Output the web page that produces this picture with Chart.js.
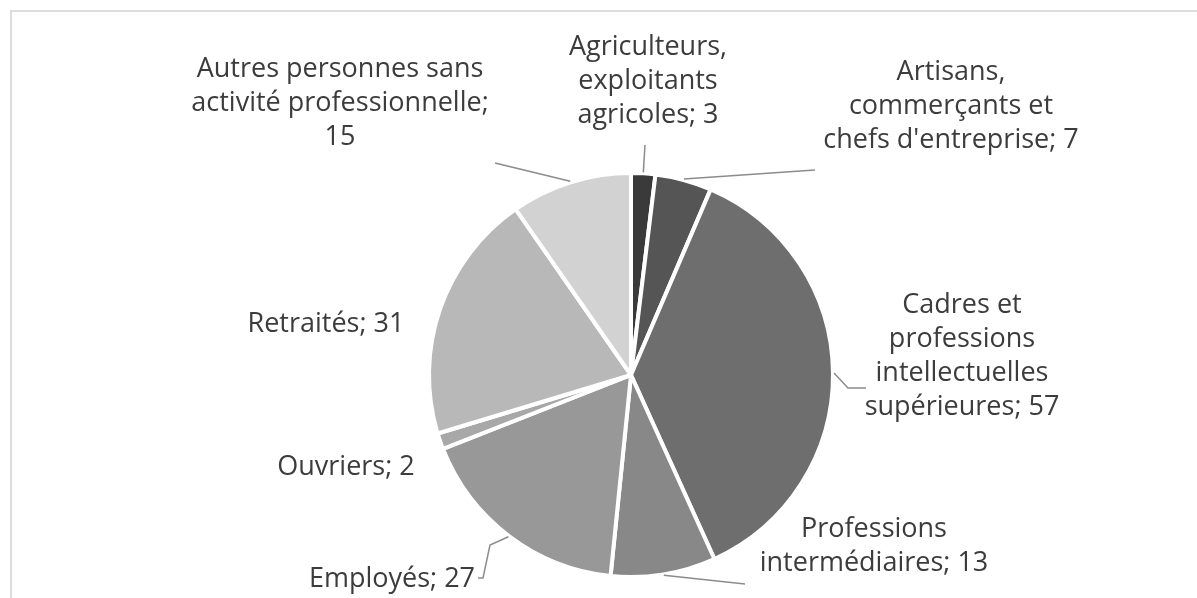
<!DOCTYPE html>
<html lang="fr">
<head>
    <meta charset="UTF-8">
    <script src="https://cdn.jsdelivr.net/npm/chart.js"></script>
    <title>Catégories socioprofessionnelles</title>
    <style>
        html, body {
            margin: 0;
            padding: 0;
            background: #ffffff;
        }
        #frame {
            position: absolute;
            left: 10px;
            top: 10px;
            width: 1187px;
            height: 588px;
            border-left: 2px solid #dcdcdc;
            border-top: 2px solid #dcdcdc;
        }
        #wrap {
            position: absolute;
            left: 0;
            top: 0;
            width: 1197px;
            height: 598px;
        }
    </style>
</head>
<body>
    <div id="frame"></div>
    <div id="wrap"><canvas id="pieChart"></canvas></div>

    <script>
        // données
        const categories = [
            'Agriculteurs, exploitants agricoles',
            'Artisans, commerçants et chefs d\'entreprise',
            'Cadres et professions intellectuelles supérieures',
            'Professions intermédiaires',
            'Employés',
            'Ouvriers',
            'Retraités',
            'Autres personnes sans activité professionnelle'
        ];
        const effectifs = [3, 7, 57, 13, 27, 2, 31, 15];
        const gris = ['#3a3a3a', '#555555', '#6e6e6e', '#888888', '#989898', '#a8a8a8', '#b8b8b8', '#d2d2d2'];

        // texte des étiquettes (coupé comme dans l'original)
        const lignesEtiquettes = [
            ['Agriculteurs,', 'exploitants', 'agricoles; 3'],
            ['Artisans,', 'commerçants et', 'chefs d\'entreprise; 7'],
            ['Cadres et', 'professions', 'intellectuelles', 'supérieures; 57'],
            ['Professions', 'intermédiaires; 13'],
            ['Employés; 27'],
            ['Ouvriers; 2'],
            ['Retraités; 31'],
            ['Autres personnes sans', 'activité professionnelle;', '15']
        ];

        // placement des étiquettes (centre du bloc) et fin du trait de rappel
        const placement = [
            { x: 648, y: 81, trait: [[645, 145]] },
            { x: 951, y: 106, trait: [[815, 170]] },
            { x: 962, y: 356, trait: [[848, 388], [866, 388]] },
            { x: 874, y: 546, trait: [[745, 584]] },
            { x: 392, y: 579, trait: [[490, 545], [483, 578], [478, 578]] },
            { x: 346, y: 467, trait: null },
            { x: 326, y: 324, trait: null },
            { x: 340, y: 103, trait: [[495, 163]] }
        ];

        const etiquettesPlugin = {
            id: 'etiquettes',
            afterDatasetsDraw(chart) {
                const ctx = chart.ctx;
                const meta = chart.getDatasetMeta(0);
                const hauteurLigne = 34;
                ctx.save();
                meta.data.forEach((arc, i) => {
                    const p = placement[i];
                    const lignes = lignesEtiquettes[i];
                    // trait de rappel depuis le bord de la part
                    if (p.trait) {
                        const a = (arc.startAngle + arc.endAngle) / 2;
                        const r = arc.outerRadius + 1;
                        ctx.beginPath();
                        ctx.moveTo(arc.x + Math.cos(a) * r, arc.y + Math.sin(a) * r);
                        p.trait.forEach(pt => ctx.lineTo(pt[0], pt[1]));
                        ctx.strokeStyle = '#8c8c8c';
                        ctx.lineWidth = 1.5;
                        ctx.stroke();
                    }
                    ctx.fillStyle = '#3c3c3c';
                    ctx.font = '27px "Open Sans", sans-serif';
                    ctx.textAlign = 'center';
                    ctx.textBaseline = 'middle';
                    const y0 = p.y - (lignes.length - 1) * hauteurLigne / 2;
                    lignes.forEach((t, k) => ctx.fillText(t, p.x, y0 + k * hauteurLigne));
                });
                ctx.restore();
            }
        };

        const ctx = document.getElementById('pieChart').getContext('2d');
        new Chart(ctx, {
            type: 'pie',
            data: {
                labels: categories,
                datasets: [{
                    data: effectifs,
                    backgroundColor: gris,
                    borderColor: '#ffffff',
                    borderWidth: 4
                }]
            },
            options: {
                responsive: true,
                maintainAspectRatio: false,
                animation: false,
                layout: {
                    padding: { left: 427, right: 362, top: 170, bottom: 18 }
                },
                plugins: {
                    legend: { display: false },
                    tooltip: { enabled: false }
                }
            },
            plugins: [etiquettesPlugin]
        });
    </script>
</body>
</html>
